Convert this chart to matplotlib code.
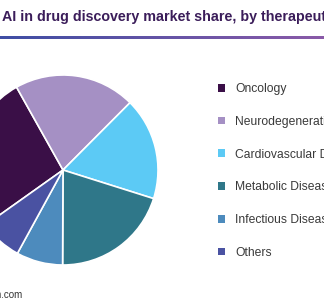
import numpy as np
import matplotlib.pyplot as plt
from matplotlib.patches import Patch
from matplotlib.colors import LinearSegmentedColormap

# Market share by therapeutic area (%)
segments = ['Oncology', 'Neurodegenerative Diseases', 'Cardiovascular Diseases',
            'Metabolic Diseases', 'Infectious Diseases', 'Others']
shares = [26.7, 20.6, 17.4, 20.2, 7.9, 7.2]
colors = ['#3a0f47', '#a590c4', '#5ccaf5', '#2f7789', '#4d8bbd', '#4a52a2']

W, H = 324, 300
fig = plt.figure(figsize=(W / 100, H / 100), dpi=100)
plt.rcParams['font.family'] = ['Liberation Sans', 'DejaVu Sans']

# title
fig.text(2 / W, 1 - 17 / H, 'AI in drug discovery market share, by therapeutic area, 2023 (%)',
         fontsize=10.3, fontweight='bold', color='#3b1d5a', va='center', ha='left')

# gradient rule under the title
lax = fig.add_axes([0, 1 - 39 / H, 1, 3 / H])
grad = np.linspace(0, 1, 256).reshape(1, -1)
cmap = LinearSegmentedColormap.from_list('rule', ['#3f4ea4', '#8a5aa8'])
lax.imshow(grad, aspect='auto', cmap=cmap, extent=[0, 1, 0, 1])
lax.axis('off')

# pie
cx, cy, r = 63, 170, 95
ax = fig.add_axes([(cx - r) / W, (H - cy - r) / H, 2 * r / W, 2 * r / H])
wedges, _ = ax.pie(shares, colors=colors, startangle=215.4, counterclock=False,
                   wedgeprops=dict(edgecolor='white', linewidth=1.2))
ax.set_xlim(-1, 1)
ax.set_ylim(-1, 1)
ax.axis('off')

# legend
handles = [Patch(facecolor=c, edgecolor='none') for c in colors]
leg = fig.legend(handles, segments, loc='upper left', bbox_to_anchor=(218 / W, 1 - 83 / H),
                 frameon=False, fontsize=8.7, labelcolor='#3a3a3a',
                 handlelength=0.6, handleheight=0.6, handletextpad=0.8,
                 labelspacing=1.72, borderaxespad=0, borderpad=0)

# source
fig.text(22 / W, 1 - 295 / H, 'Source: www.grandviewresearch.com', fontsize=7,
         color='#333333', ha='right', va='center')

fig.savefig('out.png', dpi=100)
